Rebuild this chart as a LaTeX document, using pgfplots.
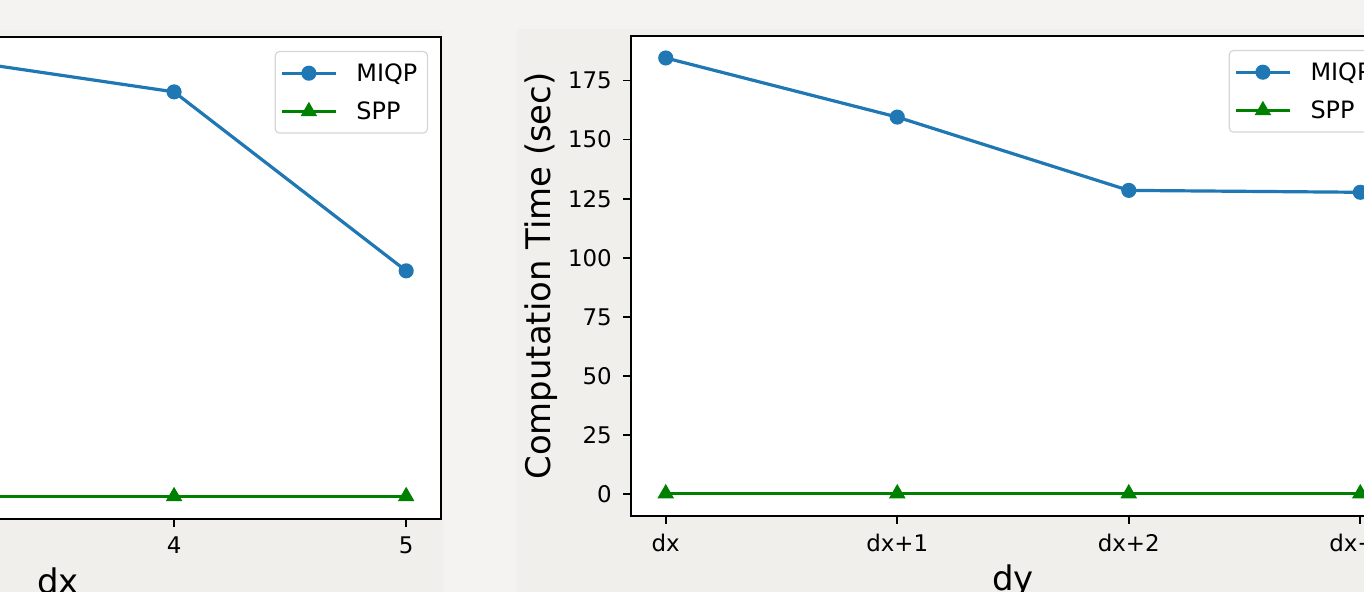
\documentclass[border=0pt]{standalone}
\usepackage{pgfplots}
\pgfplotsset{compat=1.18}
\usepackage{fontspec}
\setmainfont{DejaVu Sans}
\definecolor{outerbg}{HTML}{F4F3F1}
\definecolor{figbg}{HTML}{F0EFEB}
\definecolor{mpblue}{HTML}{1F77B4}
\definecolor{mpgreen}{HTML}{008000}
\definecolor{legframe}{HTML}{D6D6D6}

\pgfplotstableread{
x miqp spp
2 186.0 0.3
3 190.5 0.3
4 175.7 0.3
5 98.1 0.3
}\leftdata

\pgfplotstableread{
x miqp spp
0 184.5 0.3
1 159.5 0.3
2 128.5 0.3
3 127.7 0.3
}\rightdata

\pgfplotsset{
  mpl/.style={
    scale only axis,
    anchor=south west,
    axis background/.style={fill=white},
    axis line style={line width=1.8bp, black},
    tick align=outside,
    tick pos=left,
    major tick length=8bp,
    major tick style={line width=1.8bp, black},
    tick label style={font=\fontsize{23}{27}\selectfont, text=black},
    yticklabel style={inner sep=0bp, xshift=-11bp},
    xticklabel style={inner sep=0bp, yshift=-10bp},
    label style={font=\fontsize{34}{40}\selectfont},
    /pgf/number format/assume math mode=true,
    legend cell align=left,
    legend style={at={(1,1)}, anchor=north east, xshift=-13bp, yshift=-14bp,
      draw=legframe, line width=1.2bp, rounded corners=4bp, fill=white,
      font=\fontsize{24}{28}\selectfont, inner xsep=5bp, inner ysep=7bp,
      row sep=9bp, column sep=14bp,
      nodes={inner sep=5bp}},
    legend image code/.code={%
      \draw[mark repeat=2, mark phase=2, ##1]
        plot coordinates {(0bp,0bp) (27bp,0bp) (54bp,0bp)};},
    miqp/.style={color=mpblue, line width=3.2bp, mark=*, mark size=6.8bp,
      mark options={solid, line width=1.5bp, fill=mpblue}},
    spp/.style={color=mpgreen, line width=3.2bp, mark=triangle*, mark size=8.6bp,
      mark options={solid, line width=1bp, fill=mpgreen}},
  }
}

\begin{document}
\begin{tikzpicture}[x=1bp, y=1bp]
\useasboundingbox (0,0) rectangle (1364,592);
\clip (0,0) rectangle (1364,592);
\fill[outerbg] (-5,-5) rectangle (1370,600);
\fill[figbg] (-5,-5) rectangle (443,562);
\fill[figbg] (517,-5) rectangle (1370,563);

% left panel: only its right part is visible in the cropped reference
\begin{axis}[mpl,
  at={(-325bp,73bp)}, width=766bp, height=482bp,
  xmin=1.85, xmax=5.15, ymin=-9.5, ymax=199.5,
  xtick={4,5}, ytick=\empty,
  xlabel={dx},
  xlabel style={at={(axis description cs:0.5,0)}, anchor=north, inner sep=0bp, yshift=-49bp},
]
\addplot[miqp] table[x=x, y=miqp] {\leftdata};
\addlegendentry{MIQP}
\addplot[spp] table[x=x, y=spp] {\leftdata};
\addlegendentry{SPP}
\end{axis}

\begin{axis}[mpl,
  at={(631bp,76bp)}, width=764bp, height=480bp,
  xmin=-0.15, xmax=3.15, ymin=-9.2, ymax=193.8,
  xtick={0,1,2,3}, xticklabels={dx,dx+1,dx+2,dx+3},
  ytick={0,25,50,75,100,125,150,175},
  xlabel={dy}, ylabel={Computation Time (sec)},
  xlabel style={at={(axis description cs:0.5,0)}, anchor=north, inner sep=0bp, yshift=-49bp},
  ylabel style={at={(axis description cs:0,0.5)}, anchor=center, inner sep=0bp, yshift=90bp},
]
\addplot[miqp] table[x=x, y=miqp] {\rightdata};
\addlegendentry{MIQP}
\addplot[spp] table[x=x, y=spp] {\rightdata};
\addlegendentry{SPP}
\end{axis}
\end{tikzpicture}
\end{document}
